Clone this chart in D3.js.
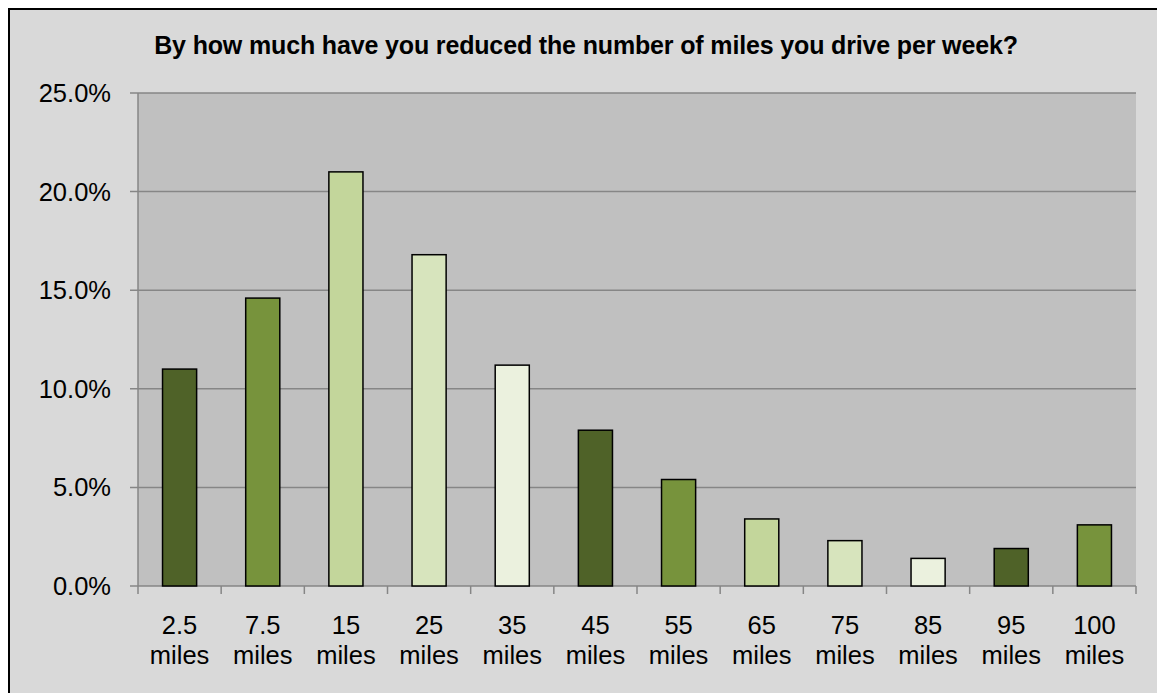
<!DOCTYPE html>
<html><head><meta charset="utf-8">
<script src="https://cdn.jsdelivr.net/npm/d3@7"></script>
<style>body{margin:0;background:#fff;}svg{display:block;font-family:"Liberation Sans",Arial,sans-serif;}</style>
</head><body>
<svg id="c" width="1157" height="693"></svg>
<script>
const categories = ["2.5 miles","7.5 miles","15 miles","25 miles","35 miles","45 miles","55 miles","65 miles","75 miles","85 miles","95 miles","100 miles"];
const values = [11.0,14.6,21.0,16.8,11.2,7.9,5.4,3.4,2.3,1.4,1.9,3.1];
const colors = ["#4F6228","#77933C","#C3D69B","#D7E4BD","#EBF1DE"];
const yTicks = [0,5,10,15,20,25];
const title = "By how much have you reduced the number of miles you drive per week?";

const svg = d3.select("#c");
svg.append("rect").attr("x",9).attr("y",9).attr("width",1160).attr("height",700)
  .attr("fill","#D9D9D9").attr("stroke","#000").attr("stroke-width",2);

const L=138,R=1136,T=93,B=586;
const x = d3.scaleBand().domain(categories).range([L,R]).paddingInner(0.59).paddingOuter(0.295);
const xb = d3.scaleBand().domain(categories).range([L,R]);
const y = d3.scaleLinear().domain([0,25]).range([B,T]);

svg.append("rect").attr("x",L).attr("y",T).attr("width",R-L).attr("height",B-T).attr("fill","#C0C0C0");

svg.append("g").selectAll("line").data(yTicks).join("line")
  .attr("x1",L-8).attr("x2",R).attr("y1",d=>y(d)).attr("y2",d=>y(d))
  .attr("stroke","#868686").attr("stroke-width",1.5);
svg.append("line").attr("x1",L).attr("x2",L).attr("y1",T).attr("y2",B).attr("stroke","#868686").attr("stroke-width",1.5);

svg.append("g").selectAll("line").data(categories.concat(["end"])).join("line")
  .attr("x1",(d,i)=>L+i*xb.step()).attr("x2",(d,i)=>L+i*xb.step())
  .attr("y1",B).attr("y2",B+8).attr("stroke","#868686").attr("stroke-width",1.5);

svg.append("g").selectAll("rect").data(values).join("rect")
  .attr("x",(d,i)=>x(categories[i])).attr("width",x.bandwidth())
  .attr("y",d=>y(d)).attr("height",d=>B-y(d))
  .attr("fill",(d,i)=>colors[i%5]).attr("stroke","#000").attr("stroke-width",1.5);

svg.append("g").selectAll("text").data(yTicks).join("text")
  .attr("x",111).attr("y",d=>y(d)+9).attr("text-anchor","end")
  .attr("font-size",25.5).attr("fill","#000").text(d=>d.toFixed(1)+"%");

const xl = svg.append("g").selectAll("text").data(categories).join("text")
  .attr("text-anchor","middle").attr("font-size",25.5).attr("fill","#000");
xl.each(function(d){
  const parts = d.split(" ");
  const cx = xb(d)+xb.bandwidth()/2;
  d3.select(this).append("tspan").attr("x",cx).attr("y",634).text(parts[0]);
  d3.select(this).append("tspan").attr("x",cx).attr("y",664).text(parts[1]);
});

svg.append("text").attr("x",586).attr("y",54).attr("text-anchor","middle")
  .attr("font-size",25).attr("font-weight","bold").attr("fill","#000").attr("letter-spacing","-0.15").text(title);
</script>
</body></html>
